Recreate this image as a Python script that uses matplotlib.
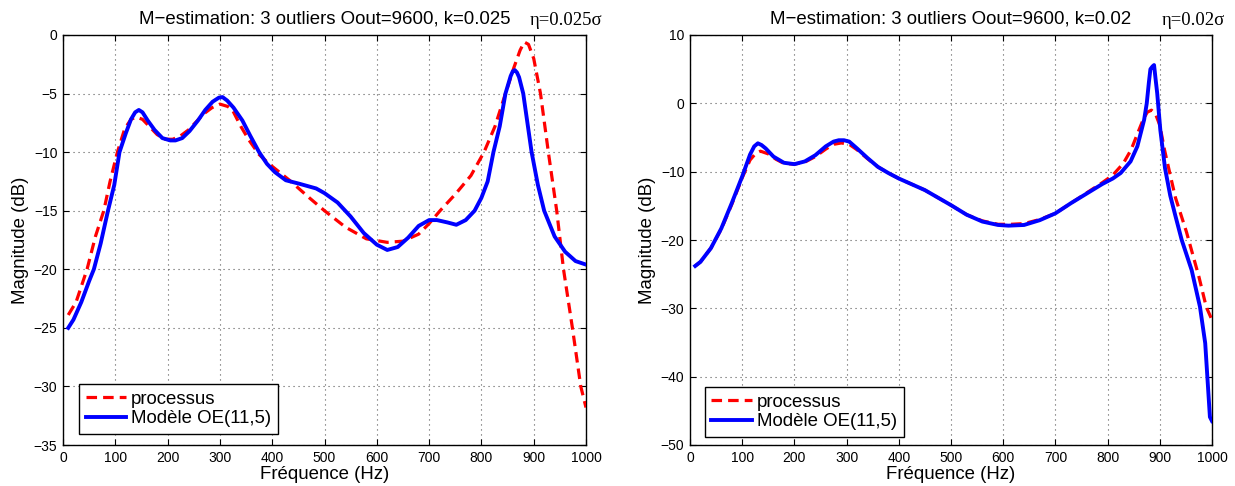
import matplotlib
matplotlib.use("Agg")
import matplotlib.pyplot as plt

plt.rcParams['font.family'] = ['Liberation Sans', 'DejaVu Sans']

# ---------------- data ----------------
# Left panel: k = 0.025
f_proc_left = [10, 25, 46, 62, 78, 90, 104, 118, 130, 140, 152, 165, 180, 195, 210, 225,
               240, 255, 270, 285, 300, 315, 324, 340, 356, 375, 394, 433, 471, 500, 540,
               580, 620, 650, 680, 700, 721, 750, 780, 805, 826, 846, 862, 874, 882, 890,
               900, 913, 928, 944, 957, 974, 990, 1000]
db_proc_left = [-23.9, -22.8, -20.0, -17.2, -15.0, -12.5, -10.0, -8.0, -7.2, -7.0, -7.2, -7.8,
                -8.5, -8.9, -8.9, -8.6, -8.1, -7.4, -6.7, -6.2, -5.9, -6.1, -6.4, -7.8, -9.0,
                -10.2, -11.0, -12.4, -13.9, -15.0, -16.4, -17.4, -17.7, -17.6, -17.0, -16.1,
                -15.0, -13.6, -12.0, -10.0, -7.8, -5.0, -2.8, -1.3, -0.6, -0.8, -2.0, -5.0,
                -10.0, -15.0, -20.0, -25.0, -30.0, -31.8]

f_model_left = [10, 20, 35, 50, 59, 72, 86, 98, 108, 120, 130, 138, 145, 152, 162, 175, 190,
                205, 215, 228, 242, 258, 272, 286, 298, 305, 314, 326, 343, 358, 375, 390,
                405, 426, 452, 484, 500, 525, 550, 575, 600, 620, 640, 660, 680, 700, 715,
                735, 752, 770, 787, 800, 812, 823, 835, 846, 856, 860, 864, 868, 872, 880,
                888, 896, 908, 920, 940, 960, 980, 1000]
db_model_left = [-25.0, -24.3, -22.8, -21.0, -20.0, -17.8, -15.0, -12.8, -10.0, -8.4, -7.2,
                 -6.6, -6.4, -6.6, -7.3, -8.1, -8.8, -9.0, -9.0, -8.8, -8.2, -7.3, -6.4, -5.7,
                 -5.35, -5.3, -5.6, -6.2, -7.3, -8.6, -10.0, -11.0, -11.7, -12.4, -12.7,
                 -13.1, -13.5, -14.3, -15.5, -16.9, -17.9, -18.35, -18.1, -17.3, -16.3, -15.8,
                 -15.8, -16.0, -16.2, -15.8, -15.0, -13.9, -12.5, -10.0, -7.8, -5.0, -3.5,
                 -3.1, -3.0, -3.2, -3.6, -5.0, -7.5, -10.0, -12.8, -15.0, -17.2, -18.5, -19.3,
                 -19.6]

# Right panel: k = 0.02
f_proc_right = [10, 20, 40, 60, 80, 100, 115, 125, 135, 150, 165, 180, 200, 220, 240, 260,
                275, 290, 305, 320, 340, 360, 380, 400, 450, 500, 530, 560, 590, 615, 640,
                670, 700, 730, 760, 790, 810, 830, 845, 858, 868, 876, 884, 892, 900, 909,
                920, 930, 951, 967, 975, 989, 1000]
db_proc_right = [-23.8, -23.2, -21.2, -18.4, -14.8, -10.9, -8.3, -7.4, -7.0, -7.4, -8.2,
                 -8.8, -8.9, -8.6, -7.8, -6.7, -6.0, -5.8, -6.0, -6.8, -8.1, -9.3, -10.2,
                 -11.0, -12.7, -14.9, -16.3, -17.2, -17.7, -17.7, -17.6, -17.0, -16.1, -14.6,
                 -13.1, -11.6, -10.5, -8.8, -6.8, -4.3, -2.4, -1.3, -1.0, -1.6, -3.2, -6.8,
                 -10.5, -13.8, -18.8, -23.2, -25.4, -29.8, -31.7]

f_model_right = [10, 20, 40, 60, 80, 100, 115, 123, 130, 137, 145, 160, 180, 200, 220, 240,
                 260, 275, 285, 295, 305, 320, 340, 360, 380, 400, 450, 500, 530, 560, 590,
                 610, 640, 670, 700, 730, 760, 790, 810, 825, 844, 857, 864, 870, 875, 879,
                 882, 886, 889, 892, 895, 901, 910, 920, 930, 942, 961, 977, 987, 996, 1000]
db_model_right = [-23.8, -23.2, -21.2, -18.3, -14.6, -10.7, -7.5, -6.3, -5.85, -6.1, -6.6,
                  -7.8, -8.7, -8.9, -8.5, -7.6, -6.3, -5.6, -5.4, -5.4, -5.6, -6.6, -8.0,
                  -9.3, -10.2, -11.0, -12.7, -14.9, -16.3, -17.3, -17.8, -17.9, -17.8, -17.1,
                  -16.1, -14.6, -13.2, -11.8, -11.0, -10.2, -8.5, -6.3, -4.2, -2.4, 0.0, 3.0,
                  5.0, 5.4, 5.6, 3.5, 1.5, -3.9, -9.5, -13.5, -16.5, -20.0, -24.4, -29.8,
                  -35.1, -45.9, -46.5]

titles = ["M\u2212estimation: 3 outliers Oout=9600, k=0.025",
          "M\u2212estimation: 3 outliers Oout=9600, k=0.02"]
eta_labels = ["\u03b7=0.025\u03c3", "\u03b7=0.02\u03c3"]
legend_labels = ["processus", "Mod\u00e8le OE(11,5)"]
xlabel = "Fr\u00e9quence (Hz)"
ylabel = "Magnitude (dB)"
xticks = [0, 100, 200, 300, 400, 500, 600, 700, 800, 900, 1000]
yticks_left = [0, -5, -10, -15, -20, -25, -30, -35]
yticks_right = [10, 0, -10, -20, -30, -40, -50]
ylims = [(-35, 0), (-50, 10)]

# ---------------- figure ----------------
W, H = 1235, 486
fig = plt.figure(figsize=(W / 100, H / 100), dpi=100)

axes_px = [(63, 35, 586, 445), (690, 35, 1212, 445)]
ylabel_px = [21, 647]
data = [(f_proc_left, db_proc_left, f_model_left, db_model_left),
        (f_proc_right, db_proc_right, f_model_right, db_model_right)]
yticks_all = [yticks_left, yticks_right]
eta_x = [0.893, 0.904]
legend_anchor = [(0.0306, 0.0268), (0.0287, 0.0195)]

FS = 13.4
for i in range(2):
    x0, y0, x1, y1 = axes_px[i]
    ax = fig.add_axes([x0 / W, 1 - y1 / H, (x1 - x0) / W, (y1 - y0) / H])
    fp, dp, fm, dm = data[i]
    ax.plot(fp, dp, color='#ff0000', lw=2.3, linestyle=(0, (3.3, 1.9)),
            label=legend_labels[0], zorder=3)
    ax.plot(fm, dm, color='#0000ff', lw=2.8, linestyle='-', solid_joinstyle='round',
            label=legend_labels[1], zorder=4)
    ax.set_xlim(0, 1000)
    ax.set_ylim(*ylims[i])
    ax.set_xticks(xticks)
    ax.set_yticks(yticks_all[i])
    ax.grid(True, color='0.35', linestyle=(0, (1, 3.5)), linewidth=0.8)
    ax.tick_params(direction='in', top=True, right=True, length=4, width=0.8,
                   labelsize=10, pad=4)
    for s in ax.spines.values():
        s.set_linewidth(1.0)
    ax.set_title(titles[i], fontsize=FS, pad=8)
    ax.text(eta_x[i], 1.0 + 10 / 410, eta_labels[i], transform=ax.transAxes,
            fontsize=FS, family=['Liberation Serif', 'DejaVu Serif'],
            ha='left', va='baseline')
    ax.set_xlabel(xlabel, fontsize=FS)
    ax.set_ylabel(ylabel, fontsize=FS)
    ax.xaxis.label.set_va('center')
    ax.yaxis.label.set_va('center')
    ax.xaxis.set_label_coords(0.5, -(474 - 445) / 410)
    ax.yaxis.set_label_coords(-(x0 - ylabel_px[i]) / (x1 - x0), 0.5)
    leg = ax.legend(loc='lower left', bbox_to_anchor=legend_anchor[i], borderaxespad=0,
                    fontsize=FS, frameon=True, fancybox=False, framealpha=1,
                    edgecolor='black', handlelength=2.2, handletextpad=0.25,
                    labelspacing=0.15, borderpad=0.35)
    leg.get_frame().set_linewidth(1.0)
    leg.set_zorder(10)

fig.savefig("out.png", dpi=100)
